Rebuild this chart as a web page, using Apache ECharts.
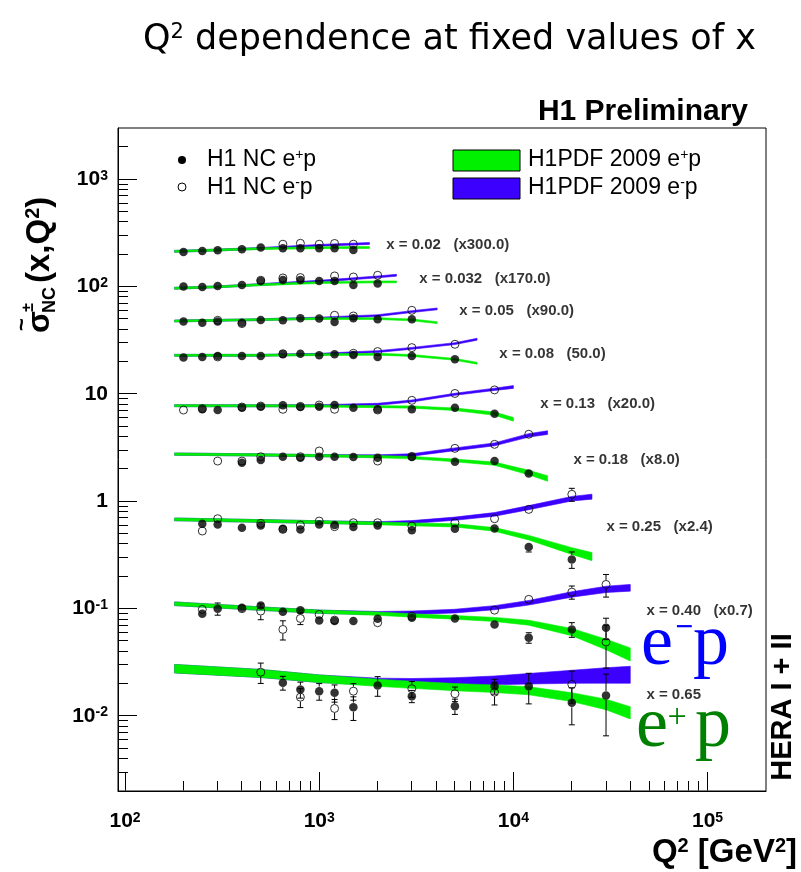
<!DOCTYPE html>
<html>
<head>
<meta charset="utf-8">
<script src="https://cdn.jsdelivr.net/npm/echarts@6/dist/echarts.min.js"></script>
<style>
  html, body { margin: 0; padding: 0; background: #fff; }
  #chart { width: 801px; height: 872px; }
</style>
</head>
<body>
<div id="chart"></div>
<script>
// bin labels (x value and scale factor applied in the plot)
const binLabels = ['x = 0.02   (x300.0)', 'x = 0.032   (x170.0)', 'x = 0.05   (x90.0)', 'x = 0.08   (50.0)',
  'x = 0.13   (x20.0)', 'x = 0.18   (x8.0)', 'x = 0.25   (x2.4)', 'x = 0.40   (x0.7)', 'x = 0.65'];
// where each bin label starts (Q2, sigma)
const labelQ2 = [2190, 3236, 5206, 8370, 13610, 20140, 29790, 47860, 47860];
const labelSigma = [244, 117, 59.3, 23.4, 8.12, 2.41, 0.575, 0.0948, 0.01586];

// measured points, one sub-array per x bin
const q2Points = [
  [200, 250, 300, 400, 500, 650, 800, 1000, 1200, 1500],
  [200, 250, 300, 400, 500, 650, 800, 1000, 1200, 1500, 2000],
  [200, 250, 300, 400, 500, 650, 800, 1000, 1200, 1500, 2000, 3000],
  [200, 250, 300, 400, 500, 650, 800, 1000, 1200, 1500, 2000, 3000, 5000],
  [200, 250, 300, 400, 500, 650, 800, 1000, 1200, 1500, 2000, 3000, 5000, 8000],
  [300, 400, 500, 650, 800, 1000, 1200, 1500, 2000, 3000, 5000, 8000, 12000],
  [250, 300, 400, 500, 650, 800, 1000, 1200, 1500, 2000, 3000, 5000, 8000, 12000, 20000],
  [250, 300, 400, 500, 650, 800, 1000, 1200, 1500, 2000, 3000, 5000, 8000, 12000, 20000, 30000],
  [500, 650, 800, 1000, 1200, 1500, 2000, 3000, 5000, 8000, 12000, 20000, 30000]
];
// e+p (filled)
const sigmaEp = [
  [210, 215, 218, 223, 231, 227, 227, 227, 227, 219],
  [100, 99.3, 101.4, 103.6, 112.8, 115.2, 115.2, 112.8, 112.8, 103.6, 106.7],
  [47.2, 46.1, 47.2, 46.1, 48.8, 48.5, 50.7, 50.3, 46.8, 50.7, 49.6, 49.6],
  [21.8, 22.1, 22.6, 22.6, 22.6, 23.4, 23.7, 22.9, 23.4, 23.0, 22.1, 22.6, 21.0],
  [null, 7.19, 7.08, 7.45, 7.61, 7.83, 7.55, 7.61, 7.88, 7.45, 7.19, 7.19, 7.45, 6.55],
  [null, 2.29, 2.42, 2.60, 2.55, 2.60, 2.60, 2.58, 2.55, 2.58, 2.34, 2.37, 1.81],
  [0.618, 0.609, 0.567, 0.596, 0.555, 0.547, 0.609, 0.600, 0.575, 0.596, 0.536, 0.555, 0.559, 0.374, 0.287],
  [0.0897, 0.0998, 0.102, 0.1071, 0.0936, 0.0968, 0.0776, 0.0765, 0.0765, 0.0805, 0.0823, 0.0810, 0.0712, 0.0536, 0.0640, 0.0664],
  [null, 0.0204, 0.01766, 0.01702, 0.01645, 0.01208, 0.01925, 0.01530, 0.01234, 0.01896, 0.01896, 0.01327, 0.01553]
];
// e-p (open)
const sigmaEm = [
  [null, null, null, null, null, 248, 253, 248, 252, 248],
  [null, null, null, null, 114.5, 120.3, 121.3, null, 125.6, 122.8, 127.4],
  [null, null, 48.5, 45.2, null, null, null, null, 54.0, 53.2, null, 60.1],
  [null, null, 22.1, null, null, 23.7, null, null, null, 23.9, 24.8, 27.0, 29.0],
  [7.08, 7.30, null, 7.55, 7.71, 7.19, 7.66, 7.88, 7.19, null, 7.08, 8.71, 10.1, 10.9],
  [2.37, 2.37, 2.60, null, 2.60, 2.94, null, null, 2.37, 2.62, 3.11, 3.39, 4.21],
  [0.528, 0.688, null, 0.622, 0.547, 0.600, 0.654, 0.580, 0.631, 0.631, 0.587, 0.631, 0.688, 0.840, 1.16],
  [0.0983, null, 0.0998, 0.0948, 0.0640, 0.0810, 0.0883, 0.0781, null, 0.0739, 0.0851, null, 0.0968, 0.1219, 0.1424, 0.168],
  [0.02559, null, 0.01497, null, 0.01175, 0.01702, null, 0.01793, 0.01610, 0.01666, null, 0.01966, 0.0489]
];
// errors (only where they stick out of the marker)
const errEp = [[], [], [], [], [], [],
  [null, null, null, 0.03, null, null, null, null, null, null, null, null, null, 0.037, 0.05],
  [0.005, 0.013, 0.005, 0.008, 0.004, 0.004, 0.004, 0.004, 0.004, 0.004, 0.004, 0.004, 0.005, 0.006, 0.01, 0.015],
  [null, 0.003, 0.003, 0.003, 0.003, 0.003, 0.004, 0.002, 0.002, 0.003, 0.006, 0.005, 0.009]
];
const errEm = [[], [], [], [], [], [],
  [0.025, null, null, null, null, null, null, null, null, null, null, null, null, null, 0.16],
  [0.005, null, 0.005, 0.016, 0.013, 0.01, 0.004, 0.004, null, 0.004, 0.004, null, 0.005, 0.01, 0.02, 0.04],
  [0.0055, null, 0.003, null, 0.0025, 0.003, null, 0.003, 0.0025, 0.004, null, 0.0065, 0.021]
];

// H1PDF 2009 bands: Q2 nodes, centre values, relative half widths
const bandQ2 = [
  [180, 300, 500, 1000, 1815],
  [180, 300, 500, 1000, 2000, 2500],
  [180, 500, 1000, 2000, 3000, 4050],
  [180, 500, 1000, 2000, 3000, 5000, 6500],
  [180, 500, 1000, 2000, 3000, 5000, 8000, 10000],
  [180, 500, 1000, 2000, 3000, 5000, 8000, 12000, 15000],
  [180, 500, 1000, 2000, 3000, 5000, 8000, 12000, 20000, 25400],
  [180, 500, 1000, 2000, 3000, 5000, 8000, 12000, 20000, 30000, 40000],
  [180, 500, 1000, 2000, 3000, 5000, 8000, 12000, 20000, 30000, 40000]
];
const bandEp = [
  [213, 219, 226, 230, 231],
  [96.5, 99.5, 104, 109, 110.5, 110.5],
  [47.8, 49.2, 50.3, 50.3, 48.9, 46.1],
  [22.9, 22.9, 23.2, 23.4, 22.8, 21.0, 19.3],
  [7.77, 7.75, 7.71, 7.61, 7.55, 7.19, 6.55, 5.80],
  [2.75, 2.70, 2.66, 2.60, 2.55, 2.40, 2.24, 1.85, 1.63],
  [0.678, 0.655, 0.640, 0.622, 0.609, 0.596, 0.547, 0.458, 0.344, 0.305],
  [0.1110, 0.1000, 0.0936, 0.0897, 0.0864, 0.0828, 0.0793, 0.0739, 0.0604, 0.0464, 0.0374],
  [0.02756, 0.02489, 0.02222, 0.02039, 0.01952, 0.01855, 0.01793, 0.01717, 0.01497, 0.01280, 0.01070]
];
const bandEm = [
  [213, 219, 227, 242, 252],
  [96.5, 99.5, 104.5, 112, 123, 127.5],
  [47.8, 49.2, 50.9, 53.6, 58.5, 61.9],
  [22.9, 22.9, 23.4, 24.8, 26.6, 29.4, 32.3],
  [7.77, 7.75, 7.77, 8.0, 8.59, 9.92, 11.04, 11.6],
  [2.75, 2.70, 2.66, 2.64, 2.70, 3.05, 3.39, 4.11, 4.36],
  [0.678, 0.655, 0.640, 0.627, 0.640, 0.688, 0.755, 0.872, 1.057, 1.104],
  [0.1110, 0.1000, 0.0936, 0.0908, 0.0915, 0.0948, 0.102, 0.1134, 0.1356, 0.151, 0.1564],
  [0.02756, 0.02489, 0.02222, 0.02084, 0.02067, 0.02084, 0.02143, 0.02222, 0.02318, 0.02384, 0.02419]
];
const widthEp = [
  [0.02, 0.02, 0.02, 0.02, 0.02],
  [0.02, 0.02, 0.02, 0.02, 0.02, 0.02],
  [0.02, 0.02, 0.02, 0.02, 0.02, 0.02],
  [0.02, 0.02, 0.02, 0.02, 0.02, 0.02, 0.02],
  [0.022, 0.022, 0.022, 0.022, 0.024, 0.028, 0.035, 0.04],
  [0.024, 0.024, 0.024, 0.025, 0.027, 0.03, 0.035, 0.05, 0.06],
  [0.03, 0.03, 0.03, 0.03, 0.032, 0.035, 0.04, 0.05, 0.075, 0.09],
  [0.04, 0.038, 0.036, 0.036, 0.038, 0.04, 0.045, 0.055, 0.08, 0.12, 0.15],
  [0.095, 0.09, 0.085, 0.08, 0.08, 0.08, 0.085, 0.09, 0.1, 0.12, 0.14]
];
const widthEm = [
  [0.02, 0.02, 0.02, 0.02, 0.02],
  [0.02, 0.02, 0.02, 0.02, 0.02, 0.02],
  [0.02, 0.02, 0.02, 0.02, 0.02, 0.02],
  [0.02, 0.02, 0.02, 0.02, 0.02, 0.02, 0.02],
  [0.022, 0.022, 0.022, 0.022, 0.022, 0.022, 0.025, 0.03],
  [0.024, 0.024, 0.024, 0.025, 0.027, 0.03, 0.032, 0.038, 0.04],
  [0.03, 0.03, 0.03, 0.03, 0.032, 0.035, 0.04, 0.045, 0.05, 0.055],
  [0.04, 0.038, 0.036, 0.036, 0.038, 0.04, 0.045, 0.05, 0.06, 0.07, 0.075],
  [0.095, 0.09, 0.085, 0.08, 0.08, 0.09, 0.1, 0.12, 0.15, 0.18, 0.2]
];

// axes
const X_MIN = 92, X_MAX = 200000, Y_MIN = 0.002, Y_MAX = 3000;
const xMajorTicks = [100, 1000, 10000, 100000];
const xTickExp = ['2', '3', '4', '5'];
const xMinorTicks = [200, 300, 400, 500, 600, 700, 800, 900, 2000, 3000, 4000, 5000, 6000, 7000, 8000, 9000,
  20000, 30000, 40000, 50000, 60000, 70000, 80000, 90000];
const yMajorTicks = [0.01, 0.1, 1, 10, 100, 1000];
const yTickBase = ['10', '10', '1', '10', '10', '10'];
const yTickExp = ['-2', '-1', '', '', '2', '3'];
const yMinorTicks = [0.003, 0.004, 0.005, 0.006, 0.007, 0.008, 0.009, 0.02, 0.03, 0.04, 0.05, 0.06, 0.07, 0.08, 0.09,
  0.2, 0.3, 0.4, 0.5, 0.6, 0.7, 0.8, 0.9, 2, 3, 4, 5, 6, 7, 8, 9, 20, 30, 40, 50, 60, 70, 80, 90,
  200, 300, 400, 500, 600, 700, 800, 900, 2000];

const GREEN = '#00f000';
const BLUE = '#3c00ff';
const SANS = '"Liberation Sans", Arial, sans-serif';
const SERIF = '"Liberation Serif", "Times New Roman", serif';

const tickRich = {
  b: { fontFamily: SANS, fontWeight: 'bold', fontSize: 21, color: '#000' },
  s: { fontFamily: SANS, fontWeight: 'bold', fontSize: 14, color: '#000', verticalAlign: 'top' }
};
function findIdx(list, v) {
  return list.findIndex(t => Math.abs(v - t) / t < 1e-6);
}
function legendRich() {
  return {
    n: { fontFamily: SANS, fontSize: 23, color: '#000' },
    s: { fontFamily: SANS, fontSize: 14, color: '#000', verticalAlign: 'top' }
  };
}

// flatten points
function flatPoints(sig, err) {
  const out = [];
  q2Points.forEach((qs, i) => {
    qs.forEach((q, j) => {
      const v = sig[i][j];
      if (v == null) return;
      const e = err[i] && err[i][j] != null ? err[i][j] : 0;
      out.push([q, v, e]);
    });
  });
  return out;
}
const epData = flatPoints(sigmaEp, errEp);
const emData = flatPoints(sigmaEm, errEm);

function bandSeries(name, centres, widths, color) {
  return {
    name: name,
    type: 'custom',
    silent: true,
    data: bandQ2.map((qs, i) => [qs[0], centres[i][0], i]),
    encode: { x: 0, y: 1 },
    renderItem: function (params, api) {
      const i = params.dataIndex;
      const qs = bandQ2[i];
      const upper = qs.map((q, k) => api.coord([q, centres[i][k] * (1 + widths[i][k])]));
      const lower = qs.map((q, k) => api.coord([q, centres[i][k] / (1 + widths[i][k])])).reverse();
      return {
        type: 'polygon',
        shape: { points: upper.concat(lower) },
        style: { fill: color, stroke: color, lineWidth: 0.6 }
      };
    }
  };
}

function errorSeries(data) {
  return {
    type: 'custom',
    silent: true,
    data: data.filter(d => d[2] > 0),
    encode: { x: 0, y: 1 },
    renderItem: function (params, api) {
      const q = api.value(0), v = api.value(1), e = api.value(2);
      const c = api.coord([q, v]);
      const top = api.coord([q, v + e]);
      const bot = api.coord([q, v - e]);
      const r = 4.5, cap = 3;
      const children = [];
      const st = { stroke: '#000', lineWidth: 1 };
      if (c[1] - top[1] > r) {
        children.push({ type: 'line', shape: { x1: c[0], y1: c[1] - r, x2: c[0], y2: top[1] }, style: st });
        children.push({ type: 'line', shape: { x1: c[0] - cap, y1: top[1], x2: c[0] + cap, y2: top[1] }, style: st });
      }
      if (bot[1] - c[1] > r) {
        children.push({ type: 'line', shape: { x1: c[0], y1: c[1] + r, x2: c[0], y2: bot[1] }, style: st });
        children.push({ type: 'line', shape: { x1: c[0] - cap, y1: bot[1], x2: c[0] + cap, y2: bot[1] }, style: st });
      }
      return { type: 'group', children: children };
    }
  };
}

// inward ROOT-style tick marks: items [Q2, sigma, length, direction], drawn at the frame edge
const tickItems = []
  .concat(xMajorTicks.map(v => [v, 1, 19, 0]))
  .concat(xMinorTicks.map(v => [v, 1, 10, 0]))
  .concat(yMajorTicks.map(v => [1000, v, 19, 1]))
  .concat(yMinorTicks.map(v => [1000, v, 10, 1]));

const tickSeries = {
  type: 'custom',
  silent: true,
  data: tickItems,
  encode: { x: 0, y: 1 },
  renderItem: function (params, api) {
    const len = api.value(2);
    const isY = api.value(3) === 1;
    const st = { stroke: '#000', lineWidth: 1 };
    const children = [];
    if (!isY) {
      const p = api.coord([api.value(0), Y_MIN]);
      const x = Math.round(p[0] - 0.5) + 0.5;
      children.push({ type: 'line', shape: { x1: x, y1: p[1] - 0.5, x2: x, y2: p[1] - len }, style: st });
    } else {
      const p = api.coord([X_MIN, api.value(1)]);
      const y = Math.round(p[1] - 0.5) + 0.5;
      children.push({ type: 'line', shape: { x1: p[0] + 0.5, y1: y, x2: p[0] + len, y2: y }, style: st });
    }
    return { type: 'group', children: children };
  }
};

const chart = echarts.init(document.getElementById('chart'));

const lineStyleBlack = { color: '#000', width: 1 };

chart.setOption({
  animation: false,
  backgroundColor: '#fff',
  grid: { left: 118, right: 35, top: 128, bottom: 81, show: true, borderColor: '#000', borderWidth: 1 },
  xAxis: {
    type: 'log', logBase: 10, min: X_MIN, max: X_MAX,
    axisLine: { show: true, lineStyle: lineStyleBlack },
    splitLine: { show: false },
    axisTick: { show: false },
    axisLabel: {
      show: true, margin: 20, customValues: xMajorTicks, rich: tickRich,
      formatter: v => '{b|10}{s|' + xTickExp[findIdx(xMajorTicks, v)] + '}'
    }
  },
  yAxis: {
    type: 'log', logBase: 10, min: Y_MIN, max: Y_MAX,
    axisLine: { show: true, lineStyle: lineStyleBlack },
    splitLine: { show: false },
    axisTick: { show: false },
    axisLabel: {
      show: true, margin: 10, customValues: yMajorTicks, rich: tickRich,
      formatter: v => {
        const k = findIdx(yMajorTicks, v);
        return '{b|' + yTickBase[k] + '}' + (yTickExp[k] ? '{s|' + yTickExp[k] + '}' : '');
      }
    }
  },
  series: [
    tickSeries,
    bandSeries('H1PDF 2009 e-p', bandEm, widthEm, BLUE),
    bandSeries('H1PDF 2009 e+p', bandEp, widthEp, GREEN),
    errorSeries(epData),
    errorSeries(emData),
    {
      name: 'H1 NC e+p', type: 'scatter', symbol: 'circle', symbolSize: 8.5, silent: true,
      itemStyle: { color: '#000' },
      data: epData.map(d => [d[0], d[1]])
    },
    {
      name: 'H1 NC e-p', type: 'scatter', symbol: 'circle', symbolSize: 8, silent: true,
      itemStyle: { color: 'rgba(255,255,255,0)', borderColor: '#000', borderWidth: 1 },
      data: emData.map(d => [d[0], d[1]])
    },
    {
      type: 'scatter', symbolSize: 2, silent: true, z: 5,
      itemStyle: { color: 'rgba(255,255,255,0)' },
      data: labelQ2.map((q, i) => [q, labelSigma[i], i]),
      label: {
        show: true, position: 'right', distance: 0,
        fontFamily: SANS, fontWeight: 'bold', fontSize: 15, color: '#000',
        formatter: p => binLabels[p.data[2]]
      },
      labelLayout: { hideOverlap: false }
    }
  ],
  graphic: [
    {
      type: 'text', x: 143, y: 40,
      style: {
        text: 'Q{s|2} dependence at fixed values of x', fill: '#000',
        font: '35px "DejaVu Sans", sans-serif', textVerticalAlign: 'middle',
        rich: { s: { fontFamily: '"DejaVu Sans", sans-serif', fontSize: 21, verticalAlign: 'top' } }
      }
    },
    {
      type: 'text', x: 748, y: 112,
      style: { text: 'H1 Preliminary', fill: '#000', font: 'bold 30px ' + SANS, textAlign: 'right', textVerticalAlign: 'middle' }
    },
    // legend
    { type: 'circle', shape: { cx: 182, cy: 160, r: 4 }, style: { fill: '#000' } },
    { type: 'circle', shape: { cx: 182, cy: 187, r: 4 }, style: { fill: '#fff', stroke: '#000', lineWidth: 1 } },
    { type: 'rect', shape: { x: 453, y: 150, width: 67, height: 21 }, style: { fill: GREEN, stroke: '#000', lineWidth: 1 } },
    { type: 'rect', shape: { x: 453, y: 178, width: 67, height: 21 }, style: { fill: BLUE, stroke: '#000', lineWidth: 1 } },
    { type: 'text', x: 207, y: 160, style: { text: '{n|H1 NC e}{s|+}{n|p}', textVerticalAlign: 'middle', rich: legendRich() } },
    { type: 'text', x: 207, y: 188, style: { text: '{n|H1 NC e}{s|-}{n|p}', textVerticalAlign: 'middle', rich: legendRich() } },
    { type: 'text', x: 528, y: 160, style: { text: '{n|H1PDF 2009 e}{s|+}{n|p}', textVerticalAlign: 'middle', rich: legendRich() } },
    { type: 'text', x: 528, y: 188, style: { text: '{n|H1PDF 2009 e}{s|-}{n|p}', textVerticalAlign: 'middle', rich: legendRich() } },
    // y axis title
    {
      type: 'group', x: 40, y: 333, rotation: Math.PI / 2,
      children: [
        { type: 'text', x: 0, y: 0, style: { text: 'σ', fill: '#000', font: 'bold 32px ' + SANS, textVerticalAlign: 'middle' } },
        { type: 'text', x: 2, y: -17, style: { text: '~', fill: '#000', font: 'bold 22px ' + SANS, textVerticalAlign: 'middle' } },
        { type: 'text', x: 21, y: -11, style: { text: '±', fill: '#000', font: 'bold 16px ' + SANS, textVerticalAlign: 'middle' } },
        { type: 'text', x: 20, y: 10, style: { text: 'NC', fill: '#000', font: 'bold 18px ' + SANS, textVerticalAlign: 'middle' } },
        {
          type: 'text', x: 50, y: 0,
          style: {
            text: '{b|(x,Q}{s|2}{b|)}', textVerticalAlign: 'middle',
            rich: {
              b: { fontFamily: SANS, fontWeight: 'bold', fontSize: 33, color: '#000' },
              s: { fontFamily: SANS, fontWeight: 'bold', fontSize: 20, color: '#000', verticalAlign: 'top' }
            }
          }
        }
      ]
    },
    // x axis title
    {
      type: 'text', x: 797, y: 853,
      style: {
        text: '{b|Q}{s|2}{b| [GeV}{s|2}{b|]}', textAlign: 'right', textVerticalAlign: 'middle',
        rich: {
          b: { fontFamily: SANS, fontWeight: 'bold', fontSize: 33, color: '#000' },
          s: { fontFamily: SANS, fontWeight: 'bold', fontSize: 20, color: '#000', verticalAlign: 'top' }
        }
      }
    },
    // HERA I + II
    {
      type: 'text', x: 783, y: 707, rotation: Math.PI / 2,
      style: { text: 'HERA I + II', fill: '#000', font: 'bold 29px ' + SANS, textAlign: 'center', textVerticalAlign: 'middle' }
    },
    // big e-p / e+p
    { type: 'text', x: 641, y: 645, style: { text: 'e', fill: '#0000ff', font: '72px ' + SERIF, textVerticalAlign: 'middle' } },
    { type: 'text', x: 684, y: 629, style: { text: '−', fill: '#0000ff', font: 'bold 32px ' + SERIF, textAlign: 'center', textVerticalAlign: 'middle' } },
    { type: 'text', x: 693, y: 645, style: { text: 'p', fill: '#0000ff', font: '72px ' + SERIF, textVerticalAlign: 'middle' } },
    { type: 'text', x: 636, y: 727, style: { text: 'e', fill: '#008000', font: '72px ' + SERIF, textVerticalAlign: 'middle' } },
    { type: 'text', x: 677, y: 718, style: { text: '+', fill: '#008000', font: '34px ' + SERIF, textAlign: 'center', textVerticalAlign: 'middle' } },
    { type: 'text', x: 695, y: 727, style: { text: 'p', fill: '#008000', font: '72px ' + SERIF, textVerticalAlign: 'middle' } }
  ]
});
</script>
</body>
</html>
